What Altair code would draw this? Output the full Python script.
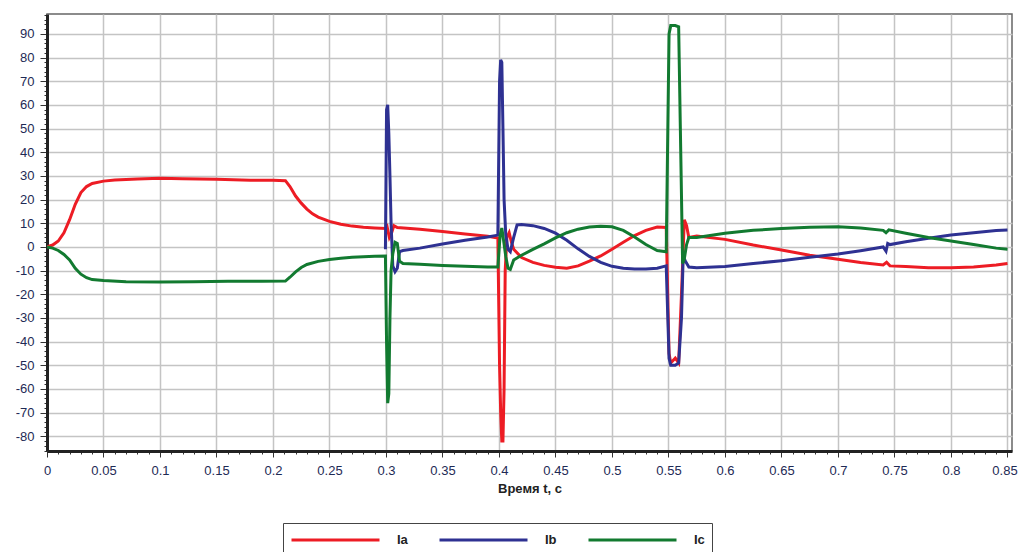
import altair as alt
import pandas as pd

# ---- data ----
t_a = [0, 0.005, 0.01, 0.015, 0.02, 0.025, 0.03, 0.035, 0.04, 0.05, 0.06, 0.08, 0.1, 0.12, 0.15,
       0.18, 0.2, 0.211, 0.215, 0.22, 0.225, 0.23, 0.235, 0.24, 0.25, 0.26, 0.27, 0.28, 0.29, 0.3,
       0.301, 0.303, 0.305, 0.307, 0.31, 0.33, 0.35, 0.37, 0.39, 0.399, 0.4005, 0.4015, 0.4025,
       0.4035, 0.4045, 0.4055, 0.407, 0.409, 0.411, 0.413, 0.42, 0.43, 0.44, 0.45, 0.46, 0.47,
       0.48, 0.49, 0.5, 0.51, 0.52, 0.53, 0.54, 0.548, 0.5505, 0.552, 0.556, 0.559, 0.5615, 0.564,
       0.566, 0.568, 0.575, 0.6, 0.625, 0.65, 0.675, 0.7, 0.72, 0.74, 0.743, 0.746, 0.76, 0.78,
       0.8, 0.82, 0.84, 0.85]
ia = [0, 0.8, 2.5, 6, 11.5, 18, 23, 25.5, 26.8, 27.8, 28.3, 28.7, 29, 28.8, 28.6,
      28.2, 28.2, 28, 25.5, 21.5, 18.5, 16, 14, 12.6, 10.8, 9.6, 8.8, 8.3, 8, 7.8,
      8.5, 4, 6, 9, 8.2, 7.5, 6.5, 5.5, 4.5, 3.8, -50, -70, -82,
      -82, -60, -10, 4, 6, 2, -1, -4.5, -6.5, -7.8, -8.6, -9, -8,
      -6, -3.8, -1, 2, 4.8, 7, 8.4, 8.2, -45, -49, -47, -49, -20, 11.5,
      9, 4, 4.6, 3.2, 0.8, -1.3, -3.5, -5.2, -6.6, -7.6, -6.5, -8, -8.3, -8.8,
      -8.8, -8.5, -7.6, -7]

t_b = [0.2995, 0.3005, 0.3015, 0.3025, 0.3035, 0.3045, 0.306, 0.308, 0.31, 0.312, 0.315, 0.33,
       0.35, 0.37, 0.39, 0.399, 0.4005, 0.4015, 0.4025, 0.4035, 0.4045, 0.406, 0.408, 0.41,
       0.413, 0.416, 0.42, 0.43, 0.44, 0.45, 0.46, 0.47, 0.48, 0.49, 0.5, 0.51, 0.52, 0.53, 0.54,
       0.548, 0.5505, 0.552, 0.556, 0.559, 0.5615, 0.563, 0.565, 0.568, 0.575, 0.6, 0.625, 0.65,
       0.675, 0.7, 0.72, 0.74, 0.7425, 0.744, 0.746, 0.76, 0.78, 0.8, 0.82, 0.84, 0.85]
ib = [-1, 58, 60, 48, 30, 10, -8, -10.5, -9, -2, -1.5, -0.5,
      1.2, 2.8, 4.2, 5, 70, 79, 78, 50, 20, 5, -1, -2,
      4, 9.3, 9.5, 9, 7.8, 5.8, 2.8, -0.8, -4, -6.5, -8.2, -9, -9.3, -9.3, -9,
      -8, -47, -50, -50, -49, -30, -4, -6, -8.5, -8.8, -8.3, -7, -5.8,
      -4.4, -3, -1.6, 0, -1.8, 1.5, 1, 2.2, 3.7, 5, 6, 6.9, 7.2]

t_c = [0, 0.005, 0.01, 0.015, 0.02, 0.025, 0.03, 0.035, 0.04, 0.05, 0.07, 0.1, 0.13, 0.16, 0.19,
       0.211, 0.215, 0.22, 0.225, 0.23, 0.24, 0.25, 0.26, 0.27, 0.28, 0.29, 0.2995, 0.3005,
       0.3015, 0.3025, 0.3035, 0.3045, 0.306, 0.308, 0.31, 0.312, 0.315, 0.33, 0.35, 0.37, 0.39,
       0.399, 0.401, 0.4025, 0.404, 0.406, 0.408, 0.41, 0.413, 0.42, 0.43, 0.44, 0.45, 0.46, 0.47,
       0.48, 0.49, 0.5, 0.51, 0.52, 0.53, 0.54, 0.548, 0.5505, 0.552, 0.556, 0.559, 0.5605, 0.5625,
       0.564, 0.566, 0.568, 0.575, 0.6, 0.625, 0.65, 0.675, 0.7, 0.72, 0.74, 0.7425, 0.745, 0.76,
       0.78, 0.8, 0.82, 0.84, 0.85]
ic = [0, -0.5, -1.5, -3.2, -5.5, -9, -11.5, -13, -13.8, -14.2, -14.7, -14.8, -14.7, -14.5, -14.5,
      -14.4, -12.8, -10.5, -8.7, -7.4, -6.1, -5.3, -4.8, -4.4, -4.1, -3.9, -3.8, -40,
      -66, -62, -30, -10, -3, 2, 1.5, -6, -7, -7.3, -7.8, -8.2, -8.5,
      -8.5, 5, 8, 3, -4, -9, -9.5, -5.5, -3.5, -1, 1.3, 3.8, 6, 7.5,
      8.4, 8.7, 8.5, 7, 4.2, 1, -1.5, -2, 90, 93.5, 93.5, 93, 50, -7,
      -5, 1, 4, 4, 5.8, 7, 7.8, 8.3, 8.5, 8, 7, 6, 7.2, 5.8,
      4, 2.5, 1, -0.5, -1]

series_names = ["Ia", "Ib", "Ic"]
series_colors = ["#ed1c24", "#2e3192", "#127a30"]

x_tick_values = [round(i * 0.01, 2) for i in range(86)]
y_tick_values = list(range(-86, 99, 2))

frames = []
for name, ts, vs in zip(series_names, [t_a, t_b, t_c], [ia, ib, ic]):
    frames.append(pd.DataFrame({"t": ts, "v": vs, "s": name}))
df = pd.concat(frames, ignore_index=True)

label_font = "Liberation Sans"
label_color = "#1e2a55"

x_major_test = "abs(datum.value*20 - round(datum.value*20)) < 0.001"
y_major_test = "datum.value % 10 == 0"

chart = alt.Chart(df).mark_line(strokeWidth=3, clip=True).encode(
    x=alt.X(
        "t:Q",
        title="Время t, с",
        scale=alt.Scale(domain=[0, 0.854], nice=False, zero=False),
        axis=alt.Axis(
            values=x_tick_values,
            labelExpr=f"({x_major_test}) ? format(datum.value, '~g') : ''",
            labelOffset={"condition": {"test": "datum.value > 0.845", "value": -3}, "value": 0},
            tickSize={"condition": {"test": x_major_test, "value": 6}, "value": 3},
            gridOpacity={"condition": {"test": x_major_test, "value": 1}, "value": 0},
            gridColor="#c4c4c4",
            gridWidth=1.5,
            domainColor="#222222",
            domainWidth=3,
            tickColor="#333333",
            labelFont=label_font,
            labelFontSize=13,
            labelColor=label_color,
            labelPadding=7,
            labelOverlap=False,
            labelFlush=False,
            titleFont=label_font,
            titleFontSize=13,
            titleFontWeight="bold",
            titleColor="#222222",
            titlePadding=5,
        ),
    ),
    y=alt.Y(
        "v:Q",
        title=None,
        scale=alt.Scale(domain=[-86.2, 98.4], nice=False, zero=False),
        axis=alt.Axis(
            values=y_tick_values,
            labelExpr=f"({y_major_test}) ? datum.value : ''",
            tickSize={"condition": {"test": y_major_test, "value": 7}, "value": 3},
            gridOpacity={"condition": {"test": y_major_test, "value": 1}, "value": 0},
            gridColor="#c4c4c4",
            gridWidth=1.5,
            domainColor="#222222",
            domainWidth=3,
            tickColor="#333333",
            labelFont=label_font,
            labelFontSize=13,
            labelColor=label_color,
            labelPadding=6,
            labelOverlap=False,
        ),
    ),
    color=alt.Color(
        "s:N",
        title=None,
        scale=alt.Scale(domain=series_names, range=series_colors),
        legend=alt.Legend(
            orient="none",
            legendX=236,
            legendY=509,
            direction="horizontal",
            symbolType="stroke",
            symbolSize=7744,
            symbolStrokeWidth=3,
            clipHeight=20,
            labelOffset=16,
            columnPadding=30,
            padding=7,
            strokeColor="#444444",
            fillColor="white",
            labelFont=label_font,
            labelFontSize=13,
            labelFontWeight="bold",
            labelColor="#222222",
        ),
    ),
).properties(
    width=965,
    height=437,
    autosize=alt.AutoSizeParams(type="none"),
    padding={"left": 39, "top": 6, "right": 6, "bottom": 101},
).configure_view(stroke="#666666", strokeWidth=1.5)

chart.save("out.html", embed_options={"renderer": "svg", "actions": False})
